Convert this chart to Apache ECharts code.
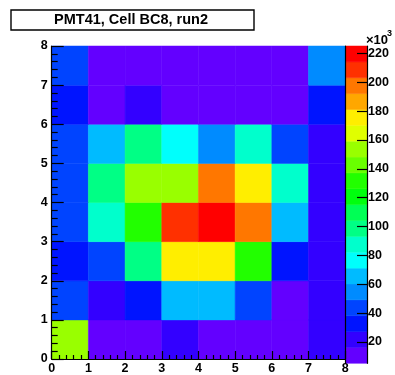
<!DOCTYPE html>
<html><head><meta charset="utf-8">
<script src="https://cdn.jsdelivr.net/npm/echarts@6/dist/echarts.min.js"></script>
<style>html,body{margin:0;padding:0;background:#fff}#c{width:395px;height:375px}</style>
</head><body><div id="c"></div>
<script>
const titleText = 'PMT41, Cell BC8, run2';
const xEdges = [0, 8];
const yEdges = [0, 8];
// bin contents (units of 10^3), one array per y row, bottom (y=0) to top (y=7), x = 0..7
const row0 = [153, 9, 7, 20, 11, 8, 5.2, 19];
const row1 = [45, 24, 34, 66, 64, 42, 14, 21];
const row2 = [36, 44, 97, 178, 174, 131, 31, 23];
const row3 = [46, 89, 134, 209, 225.2, 199, 63, 22];
const row4 = [43, 101, 152, 156, 197, 177, 86, 24];
const row5 = [41, 67, 96, 78, 56, 87, 40, 20];
const row6 = [33, 12, 18, 13, 10, 11, 12, 35];
const row7 = [47, 9, 10, 12, 13, 11, 15, 52];
const rows = [row0, row1, row2, row3, row4, row5, row6, row7];
const zTicks = [20, 40, 60, 80, 100, 120, 140, 160, 180, 200, 220];
const nLevels = 20;
const palette = ['#6300ff','#3300ff','#0014ff','#0044ff','#008bff','#00bbff','#00fffc','#00ffcc','#00ff85','#00ff55',
                 '#00ff0e','#22ff00','#69ff00','#99ff00','#e0ff00','#ffee00','#ffa700','#ff7700','#ff3000','#ff0000'];

const cells = [];
rows.forEach((r, y) => r.forEach((v, x) => cells.push([x, y, v])));
const allV = cells.map(c => c[2]);
const zMin = Math.min(...allV), zMax = Math.max(...allV);
const step = (zMax - zMin) / nLevels;
const pieces = [], bands = [];
for (let i = 0; i < nLevels; i++) {
  const lo = zMin + i * step, hi = (i === nLevels - 1) ? zMax : zMin + (i + 1) * step;
  const p = { gte: lo, color: palette[i] };
  if (i === nLevels - 1) p.lte = hi; else p.lt = hi;
  pieces.push(p);
  bands.push([i, lo, hi]);
}

const FONT = '"Liberation Sans", Arial, Helvetica, sans-serif';
const GL = 51.7, GT = 46, GW = 293.5, GH = 317.3;
const chart = echarts.init(document.getElementById('c'), null, { renderer: 'canvas' });
chart.setOption({
  animation: false,
  backgroundColor: '#fff',
  grid: [
    { left: GL, top: GT, width: GW, height: GH, show: false },
    { left: GL + GW + 0.3, top: GT, width: 21.5, height: GH, show: false }
  ],
  visualMap: { type: 'piecewise', show: false, seriesIndex: 0, dimension: 2, pieces: pieces },
  xAxis: [
    { type: 'value', gridIndex: 0, min: xEdges[0], max: xEdges[1], interval: 1, z: 10,
      axisLine: { show: true, onZero: false, lineStyle: { color: '#000', width: 1.2 } },
      axisTick: { show: true, inside: true, length: 8, lineStyle: { color: '#000', width: 1.2 } },
      minorTick: { show: true, splitNumber: 5, length: 4, lineStyle: { color: '#000', width: 1.2 } },
      splitLine: { show: false },
      axisLabel: { color: '#000', fontFamily: FONT, fontWeight: 'bold', fontSize: 12.5, margin: 3 } },
    { type: 'value', gridIndex: 1, min: 0, max: 1, show: false }
  ],
  yAxis: [
    { type: 'value', gridIndex: 0, min: yEdges[0], max: yEdges[1], interval: 1, z: 10,
      axisLine: { show: true, onZero: false, lineStyle: { color: '#000', width: 1.2 } },
      axisTick: { show: true, inside: true, length: 12, lineStyle: { color: '#000', width: 1.2 } },
      minorTick: { show: true, splitNumber: 5, length: 6, lineStyle: { color: '#000', width: 1.2 } },
      splitLine: { show: false },
      axisLabel: { color: '#000', fontFamily: FONT, fontWeight: 'bold', fontSize: 12.5, margin: 4 } },
    { type: 'value', gridIndex: 1, position: 'left', min: zMin, max: zMax, z: 10,
      axisLine: { show: true, onZero: false, lineStyle: { color: '#000', width: 1.2 } },
      axisTick: { show: false }, axisLabel: { show: false }, splitLine: { show: false } },
    { type: 'value', gridIndex: 1, position: 'right', min: zMin, max: zMax, z: 10,
      axisLine: { show: true, onZero: false, lineStyle: { color: '#000', width: 1.2 } },
      axisTick: { show: true, inside: true, length: 10, customValues: zTicks, lineStyle: { color: '#000', width: 1.2 } },
      axisLabel: { show: true, customValues: zTicks, color: '#000', fontFamily: FONT, fontWeight: 'bold', fontSize: 12.5, margin: 1 },
      splitLine: { show: false } }
  ],
  series: [
    { type: 'custom', xAxisIndex: 0, yAxisIndex: 0, z: 1, data: cells, encode: { x: 0, y: 1 },
      renderItem: function (params, api) {
        const x = api.value(0), y = api.value(1);
        const a = api.coord([x, y + 1]), b = api.coord([x + 1, y]);
        return { type: 'rect', shape: { x: a[0], y: a[1], width: b[0] - a[0], height: b[1] - a[1] },
                 style: { fill: api.visual('color'), stroke: api.visual('color'), lineWidth: 0.5 } };
      } },
    { type: 'custom', xAxisIndex: 1, yAxisIndex: 1, z: 1, data: bands, encode: { y: [1, 2] },
      renderItem: function (params, api) {
        const i = api.value(0);
        const a = api.coord([0, api.value(2)]), b = api.coord([1, api.value(1)]);
        return { type: 'rect', shape: { x: a[0], y: a[1], width: b[0] - a[0], height: b[1] - a[1] },
                 style: { fill: palette[i], stroke: palette[i], lineWidth: 0.5 } };
      } }
  ],
  graphic: [
    { type: 'rect', shape: { x: 11, y: 10, width: 243, height: 20 }, style: { fill: '#fff', stroke: '#000', lineWidth: 1.4 } },
    { type: 'text', x: 131, y: 20, style: { text: titleText, fill: '#000', font: 'bold 14.5px ' + FONT, align: 'center', verticalAlign: 'middle' } },
    { type: 'text', x: 366, y: 40, style: { text: '×10', fill: '#000', font: 'bold 13px ' + FONT, align: 'left', verticalAlign: 'middle' } },
    { type: 'text', x: 387, y: 34, style: { text: '3', fill: '#000', font: 'bold 9px ' + FONT, align: 'left', verticalAlign: 'middle' } }
  ]
});
</script></body></html>
